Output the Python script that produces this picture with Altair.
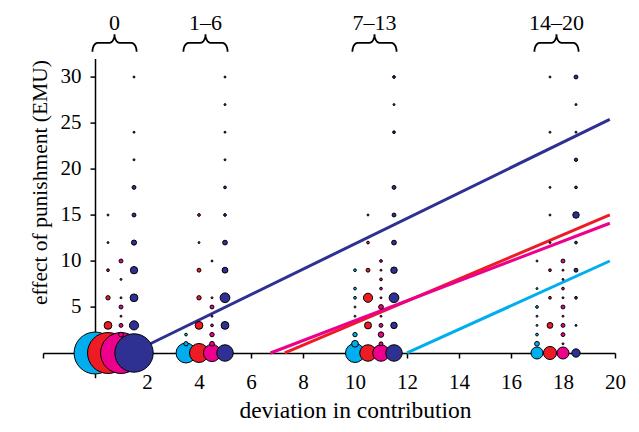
import altair as alt
import numpy as np
import pandas as pd

# ---------------- data ----------------
series = ["T1", "T2", "T3", "T4"]
colors = ["#00AEEF", "#ED1C24", "#EC008C", "#2E3192"]
series_offset = [0.0, 0.5, 1.0, 1.5]

groups = ["0", "1–6", "7–13", "14–20"]
group_base = [0.0, 3.5, 10.0, 17.0]

# effect of punishment values (y) and bubble frequencies (n), per group
t1_y = [[0], [0, 1, 2], [0, 1, 2, 4, 5, 6, 7, 9], [0, 1, 2, 3, 4, 5, 7, 10]]
t1_n = [[462], [105, 5, 2], [95, 12, 5, 1, 1, 2, 2, 2], [38, 6, 2, 1, 1, 2, 1, 1]]

t2_y = [[0, 3, 6, 9, 12, 15], [0, 3, 6, 9, 12, 15], [0, 3, 6, 9, 12, 15],
        [0, 3, 6, 9, 12, 15, 18, 24, 30]]
t2_n = [[441, 16, 5, 2, 1, 1], [95, 16, 5, 4, 1, 2], [72, 13, 22, 4, 2, 1],
        [45, 9, 2, 2, 1, 1, 1, 1, 1]]

t3_y = [[0, 2, 3, 4, 5, 6, 8, 10], [0, 1, 2, 3, 4, 5, 6, 10],
        [0, 1, 2, 3, 4, 5, 6, 7, 8, 9, 10], [0, 1, 2, 3, 4, 5, 6, 7, 8, 9, 10]]
t3_n = [[441, 6, 4, 1, 4, 1, 1, 4], [78, 6, 5, 2, 1, 4, 1, 1],
        [72, 4, 8, 4, 1, 6, 1, 2, 2, 1, 2], [38, 1, 4, 4, 1, 4, 1, 2, 1, 1, 4]]

t4_y = [[0, 3, 6, 9, 12, 15, 18, 21, 24, 30], [0, 3, 6, 9, 12, 15, 18, 21, 24, 27, 30],
        [0, 3, 6, 9, 12, 15, 18, 24, 27, 30], [0, 3, 6, 9, 12, 15, 18, 21, 24, 27, 30]]
t4_n = [[388, 22, 16, 14, 7, 4, 4, 1, 1, 1], [72, 16, 25, 9, 6, 2, 2, 1, 1, 1, 1],
        [72, 11, 25, 11, 6, 4, 4, 2, 1, 2], [18, 1, 2, 4, 2, 11, 2, 3, 1, 1, 4]]

# regression lines (start and end points)
line_x_start = [12.0, 7.3, 6.75, 1.4]
line_y_start = [0.0, 0.0, 0.0, 0.0]
line_x_end = [19.8, 19.8, 19.8, 19.8]
line_y_end = [10.0, 15.0, 14.1, 25.4]

# ---------------- tables ----------------
ys_all = [t1_y, t2_y, t3_y, t4_y]
ns_all = [t1_n, t2_n, t3_n, t4_n]
rows = []
for si, s in enumerate(series):
    for gi, g in enumerate(groups):
        for yv, nv in zip(ys_all[si][gi], ns_all[si][gi]):
            rows.append({"series": s, "group": g,
                         "x": group_base[gi] + series_offset[si], "y": yv, "n": nv})
points = pd.DataFrame(rows)

lrows = []
for si, s in enumerate(series):
    lrows.append({"series": s, "x": line_x_start[si], "y": line_y_start[si]})
    lrows.append({"series": s, "x": line_x_end[si], "y": line_y_end[si]})
lines = pd.DataFrame(lrows)


def brace(a, b, ybar, h=0.2, v=0.95, k=8):
    m = (a + b) / 2
    pts = []
    for t in np.linspace(np.pi, np.pi / 2, k):
        pts.append((a + h + h * np.cos(t), ybar - v + v * np.sin(t)))
    for t in np.linspace(-np.pi / 2, 0, k):
        pts.append((m - h + h * np.cos(t), ybar + v + v * np.sin(t)))
    for t in np.linspace(np.pi, 1.5 * np.pi, k):
        pts.append((m + h + h * np.cos(t), ybar + v + v * np.sin(t)))
    for t in np.linspace(np.pi / 2, 0, k):
        pts.append((b - h + h * np.cos(t), ybar - v + v * np.sin(t)))
    return pts


brows = []
trows = []
for gi, g in enumerate(groups):
    a = group_base[gi] - 0.1
    b = group_base[gi] + 1.6
    for idx, (px, py) in enumerate(brace(a, b, 33.7)):
        brows.append({"group": g, "idx": idx, "x": px, "y": py})
    trows.append({"label": g, "x": (a + b) / 2, "y": 35.15})
braces = pd.DataFrame(brows)
labels = pd.DataFrame(trows)

# ---------------- encodings ----------------
FONT = "Liberation Serif"
x_enc = alt.X(
    "x:Q",
    scale=alt.Scale(domain=[-2, 20], nice=False, zero=False),
    axis=alt.Axis(
        values=list(range(-2, 21, 2)),
        labelExpr="datum.value > 0 ? datum.label : ''",
        offset=-24.84, tickSize=5, tickWidth=1.5, tickColor="black",
        domainColor="black", domainWidth=1.5, grid=False,
        labelFont=FONT, labelFontSize=21, labelColor="black", labelPadding=14,
        labelFlush=False, labelOverlap=False,
        title="deviation in contribution", titleFont=FONT, titleFontSize=23.5,
        titleFontWeight="normal", titleColor="black",
        titleX=312, titleY=65, titleBaseline="alphabetic", titleAlign="center",
    ),
)
y_enc = alt.Y(
    "y:Q",
    scale=alt.Scale(domain=[-2.7, 32], nice=False, zero=False),
    axis=alt.Axis(
        values=[5, 10, 15, 20, 25, 30],
        offset=-52, tickSize=5, tickWidth=1.5, tickColor="black",
        domainColor="black", domainWidth=1.5, grid=False,
        labelFont=FONT, labelFontSize=21, labelColor="black", labelPadding=9,
        labelFlush=False,
        title="effect of punishment (EMU)", titleFont=FONT, titleFontSize=21.5,
        titleFontWeight="normal", titleColor="black",
        titleX=-55, titleY=123.5, titleAngle=270, titleBaseline="middle",
        titleAlign="center",
    ),
)
color_enc = alt.Color("series:N", scale=alt.Scale(domain=series, range=colors), legend=None)

line_layer = alt.Chart(lines).mark_line(strokeWidth=3, strokeCap="butt").encode(
    x=x_enc, y=y_enc, color=color_enc, detail="series:N"
)

point_layer = alt.Chart(points).mark_circle(
    stroke="black", strokeWidth=1, opacity=1
).encode(
    x=x_enc, y=y_enc, color=color_enc,
    size=alt.Size("n:Q", scale=alt.Scale(domain=[0, 500], range=[0, 1900]), legend=None),
)

brace_layer = alt.Chart(braces).mark_line(color="black", strokeWidth=1.8).encode(
    x=x_enc, y=y_enc, detail="group:N", order="idx:Q"
)

label_layer = alt.Chart(labels).mark_text(
    font=FONT, fontSize=22, baseline="alphabetic", align="center", color="black"
).encode(x=x_enc, y=y_enc, text="label:N")

chart = alt.layer(line_layer, point_layer, brace_layer, label_layer).properties(
    width=572, height=319.24,
    autosize=alt.AutoSizeParams(type="none"),
    padding={"left": 35, "top": 50.6, "right": 16, "bottom": 46},
).configure_view(strokeWidth=0)

chart.save("out.html", embed_options={"renderer": "svg", "actions": False})
